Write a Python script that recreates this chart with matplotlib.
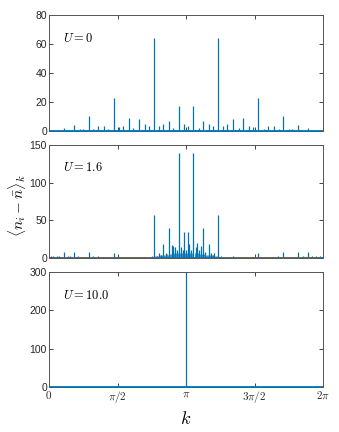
import numpy as np
import matplotlib
matplotlib.use("Agg")
import matplotlib.pyplot as plt

plt.rcParams["mathtext.fontset"] = "cm"
plt.rcParams["font.family"] = ["Liberation Sans", "DejaVu Sans"]

# peak positions in units of pi, and heights
u0_k = [0.112, 0.182, 0.224, 0.250, 0.294, 0.323, 0.360, 0.404, 0.433, 0.474,
        0.509, 0.538, 0.584, 0.615, 0.655, 0.699, 0.728, 0.766, 0.803, 0.834,
        0.874, 0.907, 0.947, 0.985, 1.015, 1.053, 1.093, 1.126, 1.166, 1.197,
        1.234, 1.272, 1.301, 1.345, 1.385, 1.416, 1.462, 1.491, 1.526, 1.567,
        1.596, 1.640, 1.677, 1.706, 1.750, 1.776, 1.818, 1.888]
u0_h = [1.8, 4.0, 1.5, 1.3, 10, 1.0, 3.7, 3.7, 1.5, 23,
        2.7, 3.3, 9, 2.0, 8.2, 4.5, 3.3, 64, 3.3, 5.1,
        6.7, 2.0, 17, 4.5, 3.7, 17, 2.0, 6.7, 5.1, 3.3,
        64, 3.3, 4.5, 8.2, 2.0, 9, 3.3, 2.7, 23, 1.5,
        3.7, 3.7, 1.0, 10, 1.3, 1.5, 4.0, 1.8]

u16_k = [0.015, 0.031, 0.056, 0.073, 0.112, 0.141, 0.153, 0.182, 0.214, 0.258,
         0.294, 0.323, 0.360, 0.396, 0.433, 0.474, 0.506, 0.555, 0.604, 0.652,
         0.701, 0.754, 0.764, 0.791, 0.805, 0.818, 0.834, 0.854, 0.876, 0.900,
         0.907, 0.918, 0.932, 0.947, 0.964, 0.976, 0.988, 1.000, 1.012, 1.024,
         1.036, 1.053, 1.071, 1.082, 1.095, 1.109, 1.124, 1.139, 1.166, 1.180,
         1.195, 1.204, 1.236, 1.252, 1.272, 1.345, 1.418, 1.491, 1.528, 1.601,
         1.637, 1.674, 1.708, 1.747, 1.783, 1.820, 1.852, 1.888, 1.917, 1.949,
         1.978]
u16_h = [2.2, 2.5, 2.5, 3.0, 8.0, 3.0, 3.0, 8.4, 2.0, 1.5,
         8.0, 2.0, 2.0, 1.5, 1.0, 6.6, 2.0, 1.0, 1.0, 1.5,
         1.0, 2.0, 57, 2.6, 6, 4, 18.5, 6, 40, 17,
         16, 15, 10.6, 140, 15, 10.6, 35, 10, 35, 18,
         10, 140, 15, 20, 10, 16, 40, 8, 19, 6,
         4, 6, 57, 2.0, 1.0, 2.0, 1.0, 1.5, 6.6, 1.0,
         1.5, 2.0, 8.0, 1.0, 1.5, 8.4, 3.0, 8.0, 3.0, 2.5,
         2.5]
# dense background hump around k = pi
u16_bg_k = [0.772, 0.780, 0.790, 0.798, 0.812, 0.820, 0.826, 0.842, 0.848, 0.862,
            0.870, 0.885, 0.893, 0.912, 0.925, 0.940, 0.955, 0.962, 0.970, 0.982,
            0.994, 1.006, 1.018, 1.030, 1.038, 1.045, 1.062, 1.076, 1.089, 1.102,
            1.116, 1.132, 1.148, 1.152, 1.158, 1.174, 1.180, 1.188, 1.202, 1.210,
            1.220, 1.228]
u16_bg_h = [2, 2, 3, 3, 3.5, 4, 4, 4.5, 4.5, 5,
            4.5, 5.5, 5, 6, 6, 6.5, 6.5, 7, 7, 6.5,
            7, 7, 6.5, 7, 7, 6.5, 6.5, 6, 6, 5.5,
            5, 5, 4.5, 4.5, 4, 4, 4, 3.5, 3, 3,
            2, 2]

u10_k = [1.0]
u10_h = [310]

panels = [
    (u0_k, u0_h, [], [], r"$U=0$", 80, [0, 20, 40, 60, 80]),
    (u16_k, u16_h, u16_bg_k, u16_bg_h, r"$U=1.6$", 150, [0, 50, 100, 150]),
    (u10_k, u10_h, [], [], r"$U=10.0$", 300, [0, 100, 200, 300]),
]
boxes = [(0.697, 0.965), (0.403, 0.664), (0.104, 0.370)]

blue = "#0072BD"
fig = plt.figure(figsize=(3.39, 4.32), dpi=100)

for (kk, hh, bk, bh, lab, ymax, yt), (b, t) in zip(panels, boxes):
    ax = fig.add_axes([0.1445, b, 0.953 - 0.1445, t - b])
    ax.vlines(np.array(bk) * np.pi, 0, bh, color=blue, lw=0.8, alpha=0.7)
    ax.vlines(np.array(kk) * np.pi, 0, hh, color=blue, lw=0.9)
    ax.axhline(0, color=blue, lw=1.3)
    ax.set_xlim(0, 2 * np.pi)
    ax.set_ylim(0, ymax)
    ax.set_yticks(yt)
    ax.set_xticks([0, np.pi / 2, np.pi, 3 * np.pi / 2, 2 * np.pi])
    ax.tick_params(direction="in", length=3, width=0.6, top=True, right=True,
                   labelsize=7.5, colors="#262626", pad=1.5)
    for s in ax.spines.values():
        s.set_color("#555555")
        s.set_linewidth(0.7)
    ax.text(0.05, 0.80, lab, transform=ax.transAxes, fontsize=9,
            va="center", ha="left")
    if ymax != 300:
        ax.set_xticklabels([])
    else:
        ax.set_xticklabels([r"$0$", r"$\pi/2$", r"$\pi$", r"$3\pi/2$", r"$2\pi$"],
                           fontsize=8)
        ax.set_xlabel(r"$k$", fontsize=13, labelpad=4)

fig.text(0.05, 0.525, r"$\langle n_i - \bar{n}\rangle_k$", rotation=90,
         fontsize=11, va="center", ha="center")

fig.savefig("out.png", dpi=100)
